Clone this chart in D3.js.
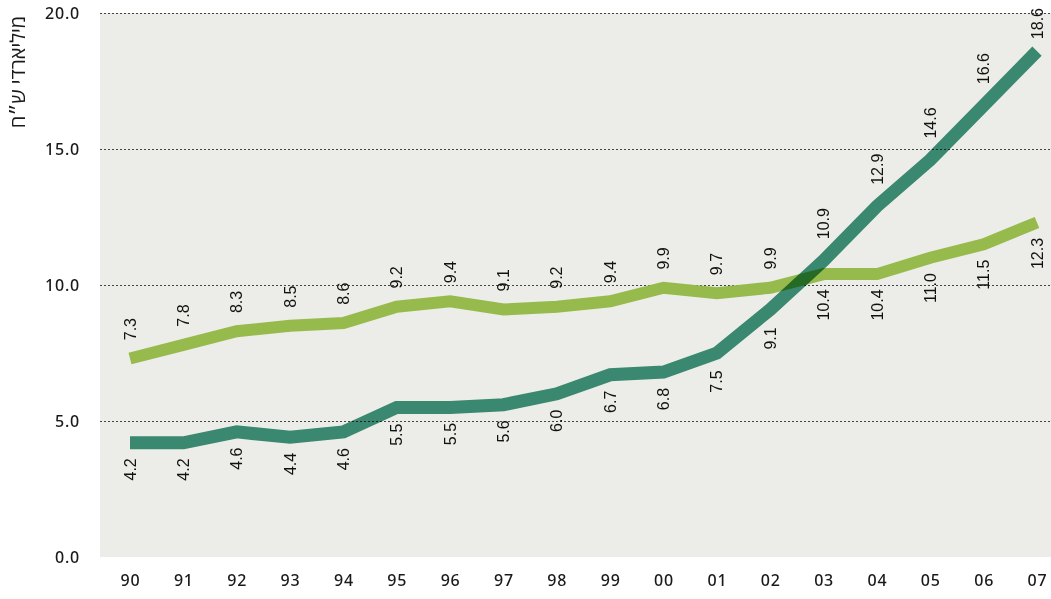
<!DOCTYPE html>
<html><head><meta charset="utf-8">
<script src="https://cdn.jsdelivr.net/npm/d3@7"></script>
<style>
html,body{margin:0;padding:0;background:#fff;}
svg{display:block;}
</style></head>
<body>
<svg id="chart" width="1051" height="599"></svg>
<script>
const years = ["90","91","92","93","94","95","96","97","98","99","00","01","02","03","04","05","06","07"];
const darkSeries = [4.2,4.2,4.6,4.4,4.6,5.5,5.5,5.6,6.0,6.7,6.8,7.5,9.1,10.9,12.9,14.6,16.6,18.6];
const lightSeries = [7.3,7.8,8.3,8.5,8.6,9.2,9.4,9.1,9.2,9.4,9.9,9.7,9.9,10.4,10.4,11.0,11.5,12.3];
const yTicks = [0,5,10,15,20];
const yTitle = "מיליארדי ש״ח";

(function(){
const svg = d3.select("#chart");
const pL = 100, pR = 1051, pT = 13, pB = 557;
const x = d3.scalePoint().domain(years).range([130, 1037]);
const y = d3.scaleLinear().domain([0, 20]).range([pB, pT]);

svg.append("rect").attr("x", pL).attr("y", pT).attr("width", pR-pL).attr("height", pB-pT).attr("fill", "#ECEDE8");

// gridlines
svg.append("g").selectAll("line").data(yTicks.filter(d => d > 0)).join("line")
  .attr("x1", pL).attr("x2", pR)
  .attr("y1", d => Math.round(y(d)) + 0.5).attr("y2", d => Math.round(y(d)) + 0.5)
  .attr("stroke", "#444").attr("stroke-width", 1).attr("stroke-dasharray", "2,2");

// y axis
const yAxis = d3.axisLeft(y).tickValues(yTicks).tickFormat(d3.format(".1f")).tickSize(0).tickPadding(0);
const gy = svg.append("g").attr("transform", `translate(80,0)`).call(yAxis);
gy.select(".domain").remove();
gy.selectAll("text").attr("font-family", "'Noto Sans', 'Open Sans', sans-serif").attr("font-size", 16)
  .attr("font-weight", 500).attr("letter-spacing", "0.8px").attr("fill", "#1a1a1a");

// x axis
const xAxis = d3.axisBottom(x).tickSize(0).tickPadding(0);
const gx = svg.append("g").attr("transform", `translate(0,575)`).call(xAxis);
gx.select(".domain").remove();
gx.selectAll("text").attr("font-family", "'Noto Sans', 'Open Sans', sans-serif").attr("font-size", 16)
  .attr("font-weight", 500).attr("letter-spacing", "0.8px").attr("fill", "#1a1a1a");

// y title
svg.append("text").attr("transform", "translate(18,72) rotate(-90)")
  .attr("text-anchor", "middle").attr("dy", "0.35em")
  .attr("font-family", "'Noto Sans', 'Open Sans', sans-serif").attr("font-size", 20).attr("fill", "#1a1a1a")
  .text(yTitle);

const line = d3.line().x((d, i) => x(years[i])).y(d => y(d));

svg.append("path").datum(lightSeries).attr("d", line).attr("fill", "none")
  .attr("stroke", "#97BA4C").attr("stroke-width", 12).attr("stroke-linejoin", "miter");
svg.append("path").datum(darkSeries).attr("d", line).attr("fill", "none")
  .attr("stroke", "#3F927B").attr("stroke-width", 13).attr("stroke-linejoin", "miter")
  .style("mix-blend-mode", "multiply");

// labels
const labels = svg.append("g").attr("font-family", "'Liberation Sans', Arial, sans-serif").attr("font-size", 16).attr("fill", "#111");
function addLabels(series, other, sw) {
  series.forEach((v, i) => {
    const above = v >= other[i];
    const xx = x(years[i]);
    // vertical half-thickness of the stroke at this vertex
    let maxSlope = 0;
    if (i > 0) maxSlope = Math.max(maxSlope, Math.abs((y(v) - y(series[i-1])) / (xx - x(years[i-1]))));
    if (i < series.length - 1) maxSlope = Math.max(maxSlope, Math.abs((y(series[i+1]) - y(v)) / (x(years[i+1]) - xx)));
    const vh = (sw / 2) * Math.sqrt(1 + maxSlope * maxSlope);
    const t = labels.append("text").attr("dy", "0.35em").text(d3.format(".1f")(v));
    const w = t.node().getComputedTextLength();
    let yy;
    if (above) {
      yy = y(v) - vh - 12;
      if (yy - w < pT - 5) yy = pT - 5 + w;
      t.attr("text-anchor", "start");
    } else {
      yy = y(v) + vh + 9;
      t.attr("text-anchor", "end");
    }
    t.attr("transform", `translate(${xx},${yy}) rotate(-90)`);
  });
}
addLabels(lightSeries, darkSeries, 12);
addLabels(darkSeries, lightSeries, 13);
})();
</script>
</body></html>
